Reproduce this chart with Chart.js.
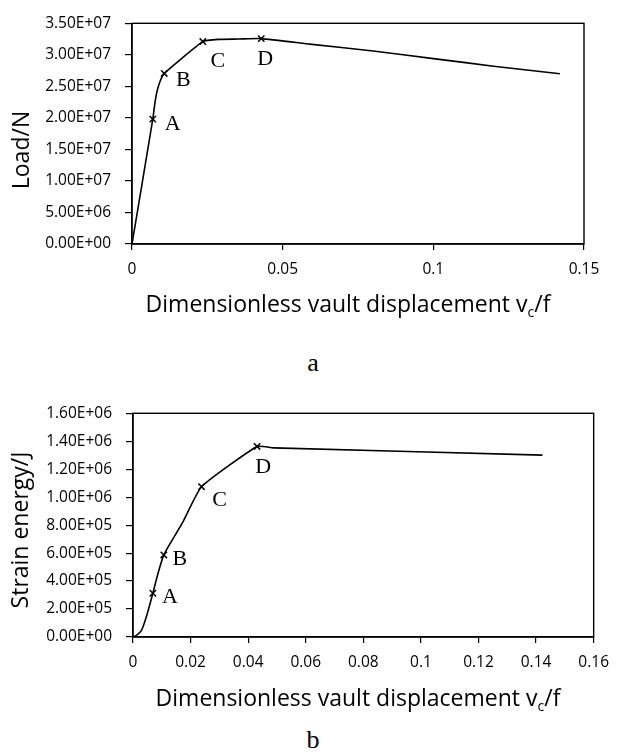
<!DOCTYPE html>
<html>
<head>
<meta charset="utf-8">
<script src="https://cdn.jsdelivr.net/npm/chart.js@4/dist/chart.umd.min.js"></script>
<style>
  body { margin: 0; background: #fff; width: 619px; height: 756px; position: relative; overflow: hidden; }
  .box { position: absolute; left: 0; width: 619px; height: 300px; }
  .ttl { position: absolute; font-family: "Open Sans", sans-serif; font-size: 23px; color: #000; white-space: nowrap; line-height: 1; }
  .ttl sub { font-size: 14px; vertical-align: -5px; line-height: 0; }
  .ytl { transform: translate(-50%, -50%) rotate(-90deg); }
  .xtl { transform: translate(-50%, -50%); }
  .cap { position: absolute; font-family: "Liberation Serif", serif; font-size: 26px; color: #000; transform: translate(-50%, -50%); line-height: 1; }
</style>
</head>
<body>
<div class="box" style="top:0"><canvas id="chartA" width="619" height="300"></canvas></div>
<div class="box" style="top:390px"><canvas id="chartB" width="619" height="300"></canvas></div>

<div class="ttl ytl" style="left:20px; top:150px">Load/N</div>
<div class="ttl xtl" style="left:348px; top:303px">Dimensionless vault displacement v<sub>c</sub>/f</div>
<div class="cap" style="left:313px; top:363px">a</div>

<div class="ttl ytl" style="left:19px; top:530px">Strain energy/J</div>
<div class="ttl xtl" style="left:358px; top:697px">Dimensionless vault displacement v<sub>c</sub>/f</div>
<div class="cap" style="left:313px; top:740px">b</div>

<script>
// chart a: load vs dimensionless displacement
const dispA = [0, 0.0069, 0.0076, 0.0084, 0.0094, 0.0107, 0.0235, 0.0287, 0.0353, 0.0429, 0.059, 0.08, 0.10, 0.12, 0.142];
const loadA = [0, 1.98e7, 2.235e7, 2.44e7, 2.59e7, 2.705e7, 3.21e7, 3.245e7, 3.25e7, 3.257e7, 3.17e7, 3.06e7, 2.94e7, 2.82e7, 2.70e7];
const tagsA = ['', 'A', '', '', '', 'B', 'C', '', '', 'D', '', '', '', '', ''];
const xTicksA = ['0', '0.05', '0.1', '0.15'];
const yTicksA = ['0.00E+00', '5.00E+06', '1.00E+07', '1.50E+07', '2.00E+07', '2.50E+07', '3.00E+07', '3.50E+07'];

// chart b: strain energy vs dimensionless displacement
const dispB = [0, 0.0012, 0.0029, 0.0040, 0.0052, 0.0069, 0.0086, 0.0107, 0.0138, 0.0172, 0.0238, 0.0431, 0.0488, 0.1422];
const energyB = [0, 1.2e4, 4.6e4, 1.04e5, 1.84e5, 3.13e5, 4.49e5, 5.87e5, 7.0e5, 8.18e5, 1.075e6, 1.363e6, 1.353e6, 1.301e6];
const tagsB = ['', '', '', '', '', 'A', '', 'B', '', '', 'C', 'D', '', ''];
const xTicksB = ['0', '0.02', '0.04', '0.06', '0.08', '0.1', '0.12', '0.14', '0.16'];
const yTicksB = ['0.00E+00', '2.00E+05', '4.00E+05', '6.00E+05', '8.00E+05', '1.00E+06', '1.20E+06', '1.40E+06', '1.60E+06'];

// label offsets from the marker (style only)
const offA = { A: [20, 5], B: [19, 7], C: [15, 20], D: [4, 21] };
const offB = { A: [17, 4], B: [16, 4], C: [18, 14], D: [6, 21] };

const tickFont = { family: 'Open Sans', size: 15.5 };

const frameAndTags = {
  id: 'frameAndTags',
  afterDatasetsDraw(chart, args, opts) {
    const { ctx, chartArea: a } = chart;
    ctx.save();
    ctx.strokeStyle = '#000';
    ctx.lineWidth = 1.4;
    ctx.strokeRect(a.left, a.top, a.right - a.left, a.bottom - a.top);
    ctx.fillStyle = '#000';
    ctx.font = '22px "Liberation Serif"';
    ctx.textAlign = 'center';
    ctx.textBaseline = 'middle';
    const pts = chart.getDatasetMeta(0).data;
    opts.tags.forEach((t, i) => {
      if (!t) return;
      const o = opts.offsets[t];
      ctx.fillText(t, pts[i].x + o[0], pts[i].y + o[1]);
    });
    ctx.restore();
  }
};

function makeChart(id, xs, ys, tags, offsets, xTicks, yTicks, xMax, xStep, yMax, yStep, area, height) {
  const pts = xs.map((x, i) => ({ x: x, y: ys[i] }));
  new Chart(document.getElementById(id), {
    type: 'line',
    data: {
      datasets: [{
        data: pts,
        borderColor: '#000',
        borderWidth: 1.6,
        tension: 0.15,
        pointStyle: 'crossRot',
        pointRadius: tags.map(t => t ? 4.5 : 0),
        pointBorderColor: '#000',
        pointBorderWidth: 1.5,
        fill: false
      }]
    },
    options: {
      responsive: false,
      animation: false,
      layout: { padding: { left: 0, top: area.top, right: 619 - area.right, bottom: 0 } },
      plugins: {
        legend: { display: false },
        tooltip: { enabled: false },
        frameAndTags: { tags: tags, offsets: offsets }
      },
      scales: {
        x: {
          type: 'linear',
          min: 0, max: xMax,
          afterBuildTicks: s => { s.ticks = xTicks.map((_, i) => ({ value: i * xStep })); },
          ticks: { callback: (v, i) => xTicks[i], color: '#000', font: tickFont, padding: 10, maxRotation: 0 },
          grid: { drawOnChartArea: false, drawTicks: true, tickLength: 6, color: '#000', lineWidth: 1.2 },
          border: { display: true, color: '#000', width: 1.4 },
          afterFit: s => { s.height = height - area.bottom; }
        },
        y: {
          type: 'linear',
          min: 0, max: yMax,
          afterBuildTicks: s => { s.ticks = yTicks.map((_, i) => ({ value: i * yStep })); },
          ticks: { callback: (v, i) => yTicks[i], color: '#000', font: tickFont, padding: 14 },
          grid: { drawOnChartArea: false, drawTicks: true, tickLength: 7, color: '#000', lineWidth: 1.2 },
          border: { display: true, color: '#000', width: 1.4 },
          afterFit: s => { s.width = area.left; }
        }
      }
    },
    plugins: [frameAndTags]
  });
}

makeChart('chartA', dispA, loadA, tagsA, offA, xTicksA, yTicksA, 0.15, 0.05, 3.5e7, 5e6,
  { left: 132, top: 13, right: 584, bottom: 244 }, 300);
makeChart('chartB', dispB, energyB, tagsB, offB, xTicksB, yTicksB, 0.16, 0.02, 1.6e6, 2e5,
  { left: 133, top: 15, right: 598, bottom: 247 }, 300);
</script>
</body>
</html>
